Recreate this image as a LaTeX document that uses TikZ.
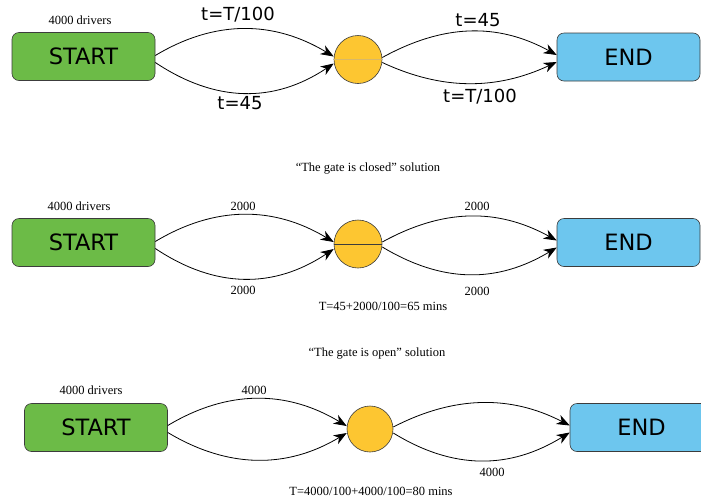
\documentclass[tikz,border=0pt]{standalone}
\usepackage{fontspec}
\setmainfont{Liberation Serif}
\newfontfamily\boxfont{DejaVu Sans}
\usetikzlibrary{arrows.meta}
\definecolor{startgreen}{HTML}{6CBB47}
\definecolor{endblue}{HTML}{6DC6EE}
\definecolor{gateyellow}{HTML}{FDC631}
\definecolor{edgegray}{HTML}{3C3C3C}
\definecolor{faintline}{HTML}{D8B868}
\tikzset{
  box/.style={draw=edgegray, line width=0.6pt, rounded corners=7pt,
    minimum width=143pt, minimum height=48pt, inner sep=0pt,
    font=\boxfont\fontsize{22.5}{26}\selectfont},
  startbox/.style={box, fill=startgreen},
  endbox/.style={box, fill=endblue},
  gate/.style={circle, draw=edgegray, line width=0.6pt, fill=gateyellow,
    minimum size=48pt, inner sep=0pt},
  flow/.style={draw=black, line width=0.8pt,
    -{Stealth[length=13pt,width=10pt,inset=4pt]}},
  biglabel/.style={font=\boxfont\fontsize{18}{21}\selectfont, inner sep=0pt},
  smalllabel/.style={font=\fontsize{12.5}{14}\selectfont, inner sep=0pt},
}
\begin{document}
\begin{tikzpicture}[x=1pt,y=-1pt]
\useasboundingbox (0,0) rectangle (701,499);
\fill[white] (0,0) rectangle (701,499);

% ---------- Panel 1 ----------
\node[startbox] (s1) at (83.5,56.5) {START};
\node[gate] (g1) at (358,59.5) {};
\draw[faintline, line width=0.6pt] (g1.west) -- (g1.east);
\node[endbox] (e1) at (628.5,57) {END};
\node[smalllabel] (d1) at (80,20) {4000 drivers};
\draw[flow] ([yshift=1pt]s1.east) .. controls +(60,-36) and +(-60,-36) .. ([yshift=3pt]g1.west);
\draw[flow] ([yshift=-6pt]s1.east) .. controls +(60,40) and +(-60,40) .. ([yshift=-4pt]g1.west);
\draw[flow] ([yshift=2pt]g1.east) .. controls +(60,-33) and +(-60,-33) .. ([yshift=2pt]e1.west);
\draw[flow] ([yshift=-3pt]g1.east) .. controls +(60,28) and +(-60,28) .. ([yshift=-5pt]e1.west);
\node[biglabel] (l1a) at (238,15) {t=T/100};
\node[biglabel] (l1b) at (240,103) {t=45};
\node[biglabel] (l1c) at (478,20) {t=45};
\node[biglabel] (l1d) at (480,97) {t=T/100};

\node[smalllabel] (c1) at (368,169) {“The gate is closed” solution};

% ---------- Panel 2 ----------
\node[startbox] (s2) at (83.5,242.5) {START};
\node[gate] (g2) at (358,244) {};
\draw[edgegray, line width=1pt] (g2.west) -- (g2.east);
\node[endbox] (e2) at (628.5,242.5) {END};
\node[smalllabel] (d2) at (79,206) {4000 drivers};
\draw[flow] ([yshift=1pt]s2.east) .. controls +(60,-36) and +(-60,-36) .. ([yshift=2pt]g2.west);
\draw[flow] ([yshift=-6pt]s2.east) .. controls +(60,40) and +(-60,40) .. ([yshift=-5pt]g2.west);
\draw[flow] ([yshift=2pt]g2.east) .. controls +(60,-33) and +(-60,-33) .. ([yshift=2pt]e2.west);
\draw[flow] ([yshift=-3pt]g2.east) .. controls +(60,36) and +(-60,36) .. ([yshift=-5pt]e2.west);
\node[smalllabel] (l2a) at (243,206) {2000};
\node[smalllabel] (l2b) at (243,290) {2000};
\node[smalllabel] (l2c) at (477,206) {2000};
\node[smalllabel] (l2d) at (477,291) {2000};
\node[smalllabel] (t2) at (383,306) {T=45+2000/100=65 mins};

\node[smalllabel] (c2) at (377,354) {“The gate is open” solution};

% ---------- Panel 3 ----------
\node[startbox] (s3) at (96,427.5) {START};
\node[gate, minimum size=46pt] (g3) at (370,429) {};
\node[endbox] (e3) at (641.5,427.5) {END};
\node[smalllabel] (d3) at (91,390) {4000 drivers};
\draw[flow] ([yshift=2pt]s3.east) .. controls +(60,-36) and +(-60,-36) .. ([yshift=3pt]g3.west);
\draw[flow] ([yshift=-5pt]s3.east) .. controls +(60,36) and +(-60,36) .. ([yshift=-4pt]g3.west);
\draw[flow] ([yshift=2pt]g3.east) .. controls +(60,-31) and +(-60,-31) .. ([yshift=2pt]e3.west);
\draw[flow] ([yshift=-4pt]g3.east) .. controls +(60,37) and +(-60,37) .. ([yshift=-5pt]e3.west);
\node[smalllabel] (l3a) at (254,390) {4000};
\node[smalllabel] (l3b) at (492,472) {4000};
\node[smalllabel] (t3) at (371,491) {T=4000/100+4000/100=80 mins};
\end{tikzpicture}
\end{document}
